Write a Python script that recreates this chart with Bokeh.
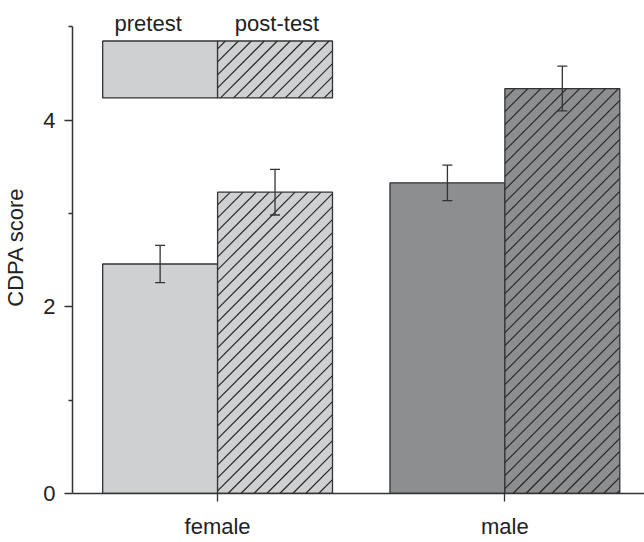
import numpy as np
from bokeh.plotting import figure
from bokeh.models import ColumnDataSource, Range1d, FixedTicker, Whisker, TeeHead
from bokeh.core.properties import value
from bokeh.embed import file_html
from bokeh.resources import INLINE

# ---- data ----
categories = ["female", "male"]
series_labels = ["pretest", "post-test"]
pretest = [2.46, 3.33]
posttest = [3.23, 4.34]
pretest_err = [0.20, 0.19]
posttest_err = [0.245, 0.24]
y_major_ticks = [0, 2, 4]
y_minor_ticks = [1, 3, 5]

# ---- styles / layout ----
FONT = "Liberation Sans"
FSIZE = "22px"
LIGHT = "#cfd0d2"
DARK = "#8d8e90"
EDGE = "#333333"
TEXT = "#222222"
BAR_W = 0.4
LEG_Y0, LEG_Y1, LEG_TEXT_Y = 4.24, 4.85, 5.04
W, H = 644, 542
BORDER_L, BORDER_B = 70, 49
X0, X1 = 0.495, 2.486
Y0, Y1 = 0.0, 5.284
HATCH_PX = 13.0   # horizontal spacing of the hatch lines, in pixels

xc = np.arange(1, len(categories) + 1)
x_pre = xc - BAR_W / 2
x_post = xc + BAR_W / 2
fills = [LIGHT, DARK]

pre = np.array(pretest)
post = np.array(posttest)
src_pre = ColumnDataSource(dict(x=x_pre, top=pre, lo=pre - np.array(pretest_err),
                                hi=pre + np.array(pretest_err), fill=fills))
src_post = ColumnDataSource(dict(x=x_post, top=post, lo=post - np.array(posttest_err),
                                 hi=post + np.array(posttest_err), fill=fills))

p = figure(width=W, height=H, x_range=Range1d(X0, X1), y_range=Range1d(Y0, Y1),
           output_backend="svg", toolbar_location=None,
           min_border_left=BORDER_L, min_border_right=0, min_border_top=0,
           min_border_bottom=BORDER_B)
p.outline_line_color = None
p.xgrid.visible = False
p.ygrid.visible = False
p.background_fill_color = "white"

# pixel scales of the frame, used to keep the hatch at 45 degrees on screen
sx = (W - BORDER_L) / (X1 - X0)
sy = (H - BORDER_B) / (Y1 - Y0)
k = sy / sx                  # data-x per data-y along a 45-degree line
dc = HATCH_PX / sx           # spacing in data-x


def hatch_segments(lefts, rights, bottoms, tops):
    xs0, ys0, xs1, ys1 = [], [], [], []
    for L, R, B, T in zip(lefts, rights, bottoms, tops):
        c = np.floor((L - T * k - X0) / dc) * dc + X0
        while c <= R - B * k:
            ya_ = max(B, (L - c) / k)
            yb_ = min(T, (R - c) / k)
            if yb_ > ya_:
                xs0.append(c + ya_ * k); ys0.append(ya_)
                xs1.append(c + yb_ * k); ys1.append(yb_)
            c += dc
    return dict(x0=xs0, y0=ys0, x1=xs1, y1=ys1)


p.vbar(x="x", top="top", bottom=0, width=BAR_W, source=src_pre, fill_color="fill",
       line_color=EDGE, line_width=1.3)
p.vbar(x="x", top="top", bottom=0, width=BAR_W, source=src_post, fill_color="fill",
       line_color=None)

# legend boxes above the first group
p.vbar(x=[x_pre[0]], bottom=LEG_Y0, top=LEG_Y1, width=BAR_W, fill_color=LIGHT,
       line_color=EDGE, line_width=1.3)
p.vbar(x=[x_post[0]], bottom=LEG_Y0, top=LEG_Y1, width=BAR_W, fill_color=LIGHT,
       line_color=None)

# hatch for post-test bars and its legend box
hl = list(x_post - BAR_W / 2) + [x_post[0] - BAR_W / 2]
hr = list(x_post + BAR_W / 2) + [x_post[0] + BAR_W / 2]
hb = [0.0] * len(post) + [LEG_Y0]
ht = list(post) + [LEG_Y1]
p.segment(x0="x0", y0="y0", x1="x1", y1="y1", source=ColumnDataSource(hatch_segments(hl, hr, hb, ht)),
          line_color=TEXT, line_width=1.1)

# outlines of the hatched boxes on top of the hatch
p.vbar(x="x", top="top", bottom=0, width=BAR_W, source=src_post, fill_color=None,
       line_color=EDGE, line_width=1.3)
p.vbar(x=[x_post[0]], bottom=LEG_Y0, top=LEG_Y1, width=BAR_W, fill_color=None,
       line_color=EDGE, line_width=1.3)

for src in (src_pre, src_post):
    head = dict(size=10, line_color=EDGE, line_width=1.3)
    p.add_layout(Whisker(base="x", lower="lo", upper="hi", source=src, line_color=EDGE,
                         line_width=1.3, level="overlay",
                         upper_head=TeeHead(**head), lower_head=TeeHead(**head)))

leg_src = ColumnDataSource(dict(x=[x_pre[0], x_post[0]], y=[LEG_TEXT_Y] * 2,
                                text=series_labels, dx=[-12, 2]))
p.text(x="x", y="y", text="text", x_offset="dx", source=leg_src, text_align="center",
       text_baseline="alphabetic", text_font=value(FONT), text_font_size=FSIZE,
       text_color=TEXT)

# axes
xa = p.xaxis[0]
ya = p.yaxis[0]
for ax in (xa, ya):
    ax.axis_line_color = EDGE
    ax.axis_line_width = 1.5
    ax.major_tick_line_color = EDGE
    ax.major_tick_line_width = 1.3
    ax.minor_tick_line_width = 1.3
    ax.major_label_text_font = FONT
    ax.major_label_text_font_size = FSIZE
    ax.major_label_text_color = TEXT

xa.ticker = FixedTicker(ticks=[int(v) for v in xc])
xa.major_label_overrides = {int(v): c for v, c in zip(xc, categories)}
xa.minor_tick_line_color = None
xa.major_tick_out = 8
xa.major_tick_in = 0
xa.major_label_standoff = 12

ya.ticker = FixedTicker(ticks=y_major_ticks, minor_ticks=y_minor_ticks)
ya.bounds = (0, 5)
ya.minor_tick_line_color = EDGE
ya.major_tick_out = 8
ya.major_tick_in = 0
ya.minor_tick_out = 4
ya.minor_tick_in = 0
ya.major_label_standoff = 9
ya.axis_label = "CDPA score"
ya.axis_label_text_font = FONT
ya.axis_label_text_font_size = FSIZE
ya.axis_label_text_font_style = "normal"
ya.axis_label_text_color = TEXT
ya.axis_label_standoff = 12

open("out.html", "w").write(file_html(p, INLINE))
